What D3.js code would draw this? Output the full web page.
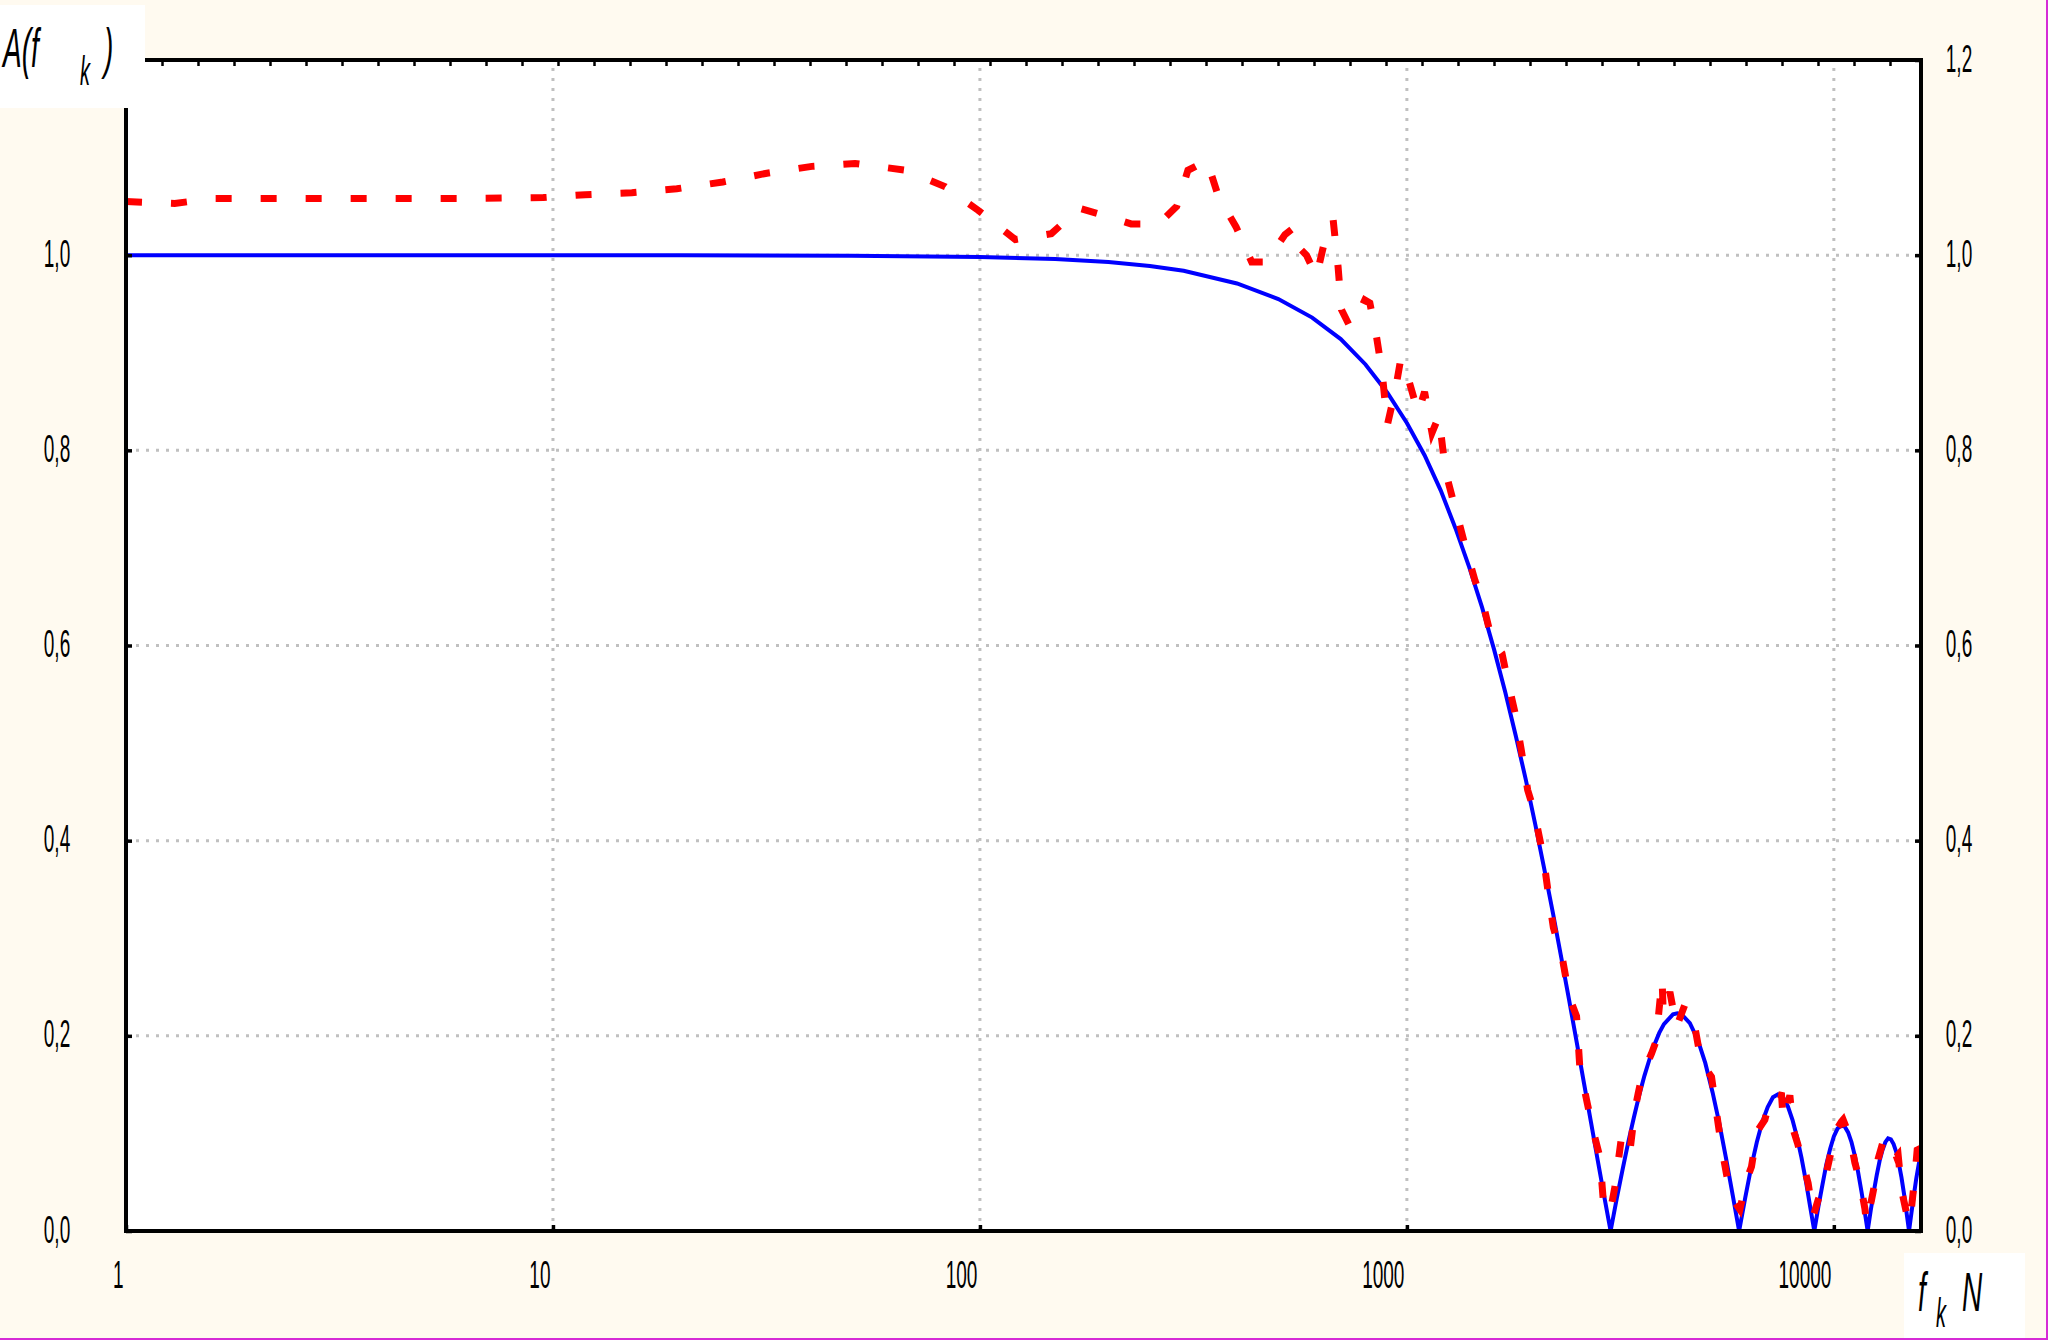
<!DOCTYPE html>
<html><head><meta charset="utf-8">
<script src="https://cdn.jsdelivr.net/npm/d3@7"></script>
<style>
html,body{margin:0;padding:0;background:#fffaf0;}
svg{display:block;}
text{font-family:"Liberation Sans", Arial, sans-serif;fill:#000;}
</style></head><body>
<svg id="chart" width="2048" height="1340"></svg>
<script>
// ---------- data ----------
const xTickValues = [1, 10, 100, 1000, 10000];
const xTickLabels = ["1", "10", "100", "1000", "10000"];
const yTickValues = [0, 0.2, 0.4, 0.6, 0.8, 1.0, 1.2];
const yTickLabels = ["0,0", "0,2", "0,4", "0,6", "0,8", "1,0", "1,2"];
const yGridValues = [0.2, 0.4, 0.6, 0.8, 1.0];
const xGridValues = [10, 100, 1000, 10000];

// theoretical curve (blue, solid)
const blueF = [1, 2, 5, 10, 20, 50, 100, 150, 200, 250, 300, 400, 500, 600, 700, 800, 900,
  1000, 1100, 1200, 1300, 1400, 1500, 1600, 1700, 1800, 1900, 2000, 2100, 2200, 2300, 2400,
  2500, 2600, 2700, 2800, 2900, 3000, 3100, 3200, 3300, 3400, 3500, 3600, 3700, 3800, 3900,
  4000, 4200, 4300, 4400, 4600, 4800, 5000, 5200, 5400, 5600, 5800, 6000, 6200, 6400, 6600,
  6800, 7000, 7200, 7400, 7600, 7800, 8000, 8200, 8400, 8600, 8800, 9000, 9200, 9400, 9600,
  9800, 10000, 10200, 10400, 10600, 10800, 11000, 11200, 11400, 11600, 11800, 12000, 12200,
  12400, 12600, 12800, 13000, 13200, 13400, 13600, 13800, 14000, 14200, 14400, 14600, 14800,
  15000, 15200, 15400, 15600, 15800, 16000];
const blueA = [1.000, 1.000, 1.000, 1.000, 1.000, 0.9995, 0.998, 0.996, 0.993, 0.989, 0.984, 0.971, 0.955, 0.936, 0.914, 0.888, 0.859,
  0.828, 0.795, 0.759, 0.720, 0.680, 0.639, 0.596, 0.552, 0.507, 0.462, 0.416, 0.370, 0.325, 0.280, 0.236,
  0.193, 0.151, 0.111, 0.072, 0.035, 0.000, 0.033, 0.063, 0.091, 0.116, 0.139, 0.159, 0.176, 0.191, 0.203,
  0.212, 0.222, 0.223, 0.222, 0.213, 0.196, 0.172, 0.142, 0.109, 0.073, 0.036, 0.000, 0.034, 0.065, 0.091,
  0.112, 0.127, 0.137, 0.140, 0.137, 0.128, 0.114, 0.096, 0.075, 0.051, 0.025, 0.000, 0.025, 0.047, 0.068,
  0.084, 0.097, 0.105, 0.108, 0.107, 0.101, 0.091, 0.077, 0.060, 0.041, 0.021, 0.000, 0.021,
  0.040, 0.057, 0.072, 0.083, 0.091, 0.095, 0.094, 0.089, 0.081, 0.069, 0.055, 0.038, 0.019,
  0.000, 0.019, 0.037, 0.054, 0.068, 0.079];

// measured curve (red, dashed)
const redF = [1, 1.3, 1.6, 3, 6, 9.5, 11.9, 15.3, 19.5, 25, 31.7, 40.4, 51, 67, 83, 99, 121, 147,
  171, 198, 226, 262, 289, 307, 340, 362, 398, 433, 469, 518, 547, 561, 582, 614, 643, 672, 690,
  703, 735, 770, 797, 819, 850, 875, 900, 940, 967, 1010, 1063, 1100, 1145, 1188, 1232, 1277,
  1325, 1373, 1443, 1506, 1580, 1670, 1718, 1790, 1853, 1918, 1986, 2084, 2157, 2203, 2316,
  2400, 2497, 2541, 2645, 2741, 2831, 2883, 2988, 3070, 3183, 3328, 3420, 3481, 3530, 3640,
  3742, 3830, 3960, 3985, 4130, 4280, 4478, 4726, 4898, 5170, 5312, 5458, 5656, 5811, 6024,
  6244, 6414, 6612, 6893, 7145, 7543, 7609, 7889, 8031, 8220, 8400, 8706, 8943, 9190, 9440,
  9600, 9872, 10144, 10420, 10515, 10900, 11200, 11508, 11822, 11930, 12255, 12474, 12700,
  13048, 13405, 13524, 14023, 14145, 14406, 14800, 15066, 15478, 15673, 16000];
const redA = [1.055, 1.053, 1.058, 1.058, 1.058, 1.059, 1.062, 1.064, 1.068, 1.075, 1.084, 1.091, 1.094, 1.087, 1.070, 1.046, 1.016, 1.022,
  1.048, 1.040, 1.032, 1.032, 1.050, 1.087, 1.097, 1.060, 1.029, 0.993, 0.993, 1.021, 1.029, 1.007, 1.000, 0.978, 1.016, 1.036, 0.988,
  0.944, 0.927, 0.940, 0.954, 0.951, 0.915, 0.880, 0.826, 0.862, 0.893, 0.872, 0.838, 0.860, 0.818, 0.835, 0.778, 0.752,
  0.726, 0.700, 0.667, 0.644, 0.606, 0.592, 0.566, 0.532, 0.493, 0.452, 0.430, 0.385, 0.338, 0.311, 0.278,
  0.240, 0.220, 0.168, 0.131, 0.100, 0.076, 0.032, 0.018, 0.045, 0.097, 0.081, 0.124, 0.141, 0.153, 0.170,
  0.182, 0.194, 0.258, 0.223, 0.245, 0.209, 0.232, 0.209, 0.172, 0.158, 0.121, 0.086, 0.049, 0.032, 0.022,
  0.052, 0.066, 0.102, 0.114, 0.141, 0.139, 0.114, 0.139, 0.104, 0.090, 0.075, 0.049, 0.015, 0.032, 0.045,
  0.059, 0.083, 0.104, 0.112, 0.114, 0.097, 0.070, 0.051, 0.023, 0.008, 0.032, 0.049, 0.074,
  0.092, 0.095, 0.095, 0.076, 0.078, 0.042, 0.018, 0.008, 0.056, 0.083, 0.085];

const topTickSteps = d3.range(1, 50);

// ---------- layout ----------
const L = 126, R = 1921, T = 60, B = 1231;
const svg = d3.select("#chart");
svg.append("rect").attr("width", 2048).attr("height", 1340).attr("fill", "#fffaf0");
svg.append("rect").attr("x", L).attr("y", T).attr("width", R - L).attr("height", B - T).attr("fill", "#ffffff");

const x = d3.scaleLog().domain([1, 16000]).range([L, R]);
const y = d3.scaleLinear().domain([0, 1.2]).range([B, T]);
const topScale = d3.scaleLinear().domain([0, 50]).range([L, L + 1800]);

// grid
const grid = svg.append("g").attr("stroke", "#c0c0c0").attr("stroke-width", 3).attr("stroke-dasharray", "3,7");
grid.selectAll("line.v").data(xGridValues).join("line").attr("class", "v")
  .attr("x1", d => x(d)).attr("x2", d => x(d)).attr("y1", B).attr("y2", T);
grid.selectAll("line.h").data(yGridValues).join("line").attr("class", "h")
  .attr("y1", d => y(d)).attr("y2", d => y(d)).attr("x1", L).attr("x2", R);

// clip
svg.append("clipPath").attr("id", "clip").append("rect")
  .attr("x", L).attr("y", T - 10).attr("width", R - L).attr("height", B - T + 10);

const line = d3.line().x(d => x(d[0])).y(d => y(d[1]));
const blue = blueF.map((f, i) => [f, blueA[i]]);
const red = redF.map((f, i) => [f, redA[i]]);

svg.append("path").datum(blue).attr("clip-path", "url(#clip)")
  .attr("d", line).attr("fill", "none").attr("stroke", "#0000ff").attr("stroke-width", 4);
svg.append("path").datum(red).attr("clip-path", "url(#clip)")
  .attr("d", line).attr("fill", "none").attr("stroke", "#ff0000").attr("stroke-width", 7)
  .attr("stroke-dasharray", "16,29").attr("stroke-linejoin", "miter");

// frame
const frame = svg.append("g").attr("stroke", "#000").attr("stroke-width", 4);
frame.append("line").attr("x1", L - 2).attr("x2", R + 2).attr("y1", T).attr("y2", T);
frame.append("line").attr("x1", L - 2).attr("x2", R + 2).attr("y1", B).attr("y2", B);
frame.append("line").attr("x1", L).attr("x2", L).attr("y1", T).attr("y2", B + 2);
frame.append("line").attr("x1", R).attr("x2", R).attr("y1", T - 2).attr("y2", B + 2);

function styleAxis(g) {
  g.select(".domain").remove();
  g.selectAll(".tick line").attr("stroke", "#000").attr("stroke-width", 3.5);
  g.selectAll(".tick text").attr("font-size", 38).attr("fill", "#000").attr("dy", null).attr("y", null).attr("x", null);
}

// bottom axis
const gx = svg.append("g").attr("transform", `translate(0,${B})`)
  .call(d3.axisBottom(x).tickValues(xTickValues).tickSize(-6).tickFormat((d, i) => xTickLabels[i]));
styleAxis(gx);
gx.selectAll(".tick text").attr("text-anchor", "end").attr("transform", "translate(-3,57) scale(0.5,1)");

// left axis
const gl = svg.append("g").attr("transform", `translate(${L},0)`)
  .call(d3.axisLeft(y).tickValues(yTickValues).tickSize(-6).tickFormat((d, i) => yTickLabels[i]));
styleAxis(gl);
gl.selectAll(".tick text").attr("text-anchor", "middle").attr("transform", "translate(-69,11) scale(0.5,1)");

// right axis
const gr = svg.append("g").attr("transform", `translate(${R},0)`)
  .call(d3.axisRight(y).tickValues(yTickValues).tickSize(-6).tickFormat((d, i) => yTickLabels[i]));
styleAxis(gr);
gr.selectAll(".tick text").attr("text-anchor", "middle").attr("transform", "translate(38,11) scale(0.5,1)");

// top axis (evenly spaced minor ticks)
const gt = svg.append("g").attr("transform", `translate(0,${T})`)
  .call(d3.axisTop(topScale).tickValues(topTickSteps).tickSize(-6).tickFormat(""));
gt.select(".domain").remove();
gt.selectAll(".tick line").attr("stroke", "#000").attr("stroke-width", 2.5);

// axis title boxes
svg.append("rect").attr("x", 0).attr("y", 5).attr("width", 145).attr("height", 103).attr("fill", "#ffffff");
svg.append("rect").attr("x", 1904).attr("y", 1253).attr("width", 121).attr("height", 87).attr("fill", "#ffffff");

function label(txt, px, py, size) {
  svg.append("text").attr("transform", `translate(${px},${py}) scale(0.5,1)`)
    .attr("font-size", size).attr("font-style", "italic").text(txt);
}
label("A(f", 3, 67, 56);
label("k", 80, 85, 40);
label(")", 104, 67, 56);
label("f", 1918, 1311, 56);
label("k", 1936, 1327, 40);
label("N", 1962, 1311, 56);

// image edge
svg.append("rect").attr("x", 2046).attr("y", 0).attr("width", 2).attr("height", 1340).attr("fill", "#d62bd6");
svg.append("rect").attr("x", 0).attr("y", 1338).attr("width", 2048).attr("height", 2).attr("fill", "#d62bd6");
</script>
</body></html>
